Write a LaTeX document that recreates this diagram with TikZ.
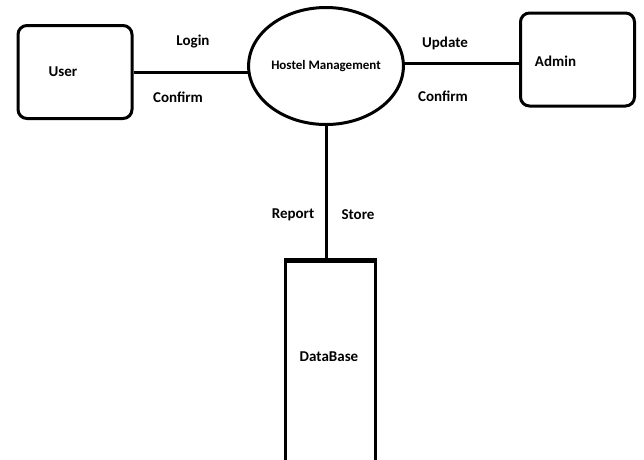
\documentclass[tikz,border=0pt]{standalone}
\usepackage{fontspec}
\setmainfont{Carlito}
\usetikzlibrary{shapes.geometric}
\begin{document}
\begin{tikzpicture}[x=1pt, y=-1pt, line width=3pt,
  every node/.style={font=\bfseries\fontsize{15}{17}\selectfont},
  entity/.style={draw, rounded corners=9pt, minimum width=114pt, minimum height=93pt},
  process/.style={draw, ellipse, minimum width=136pt, minimum height=117pt, inner sep=0pt, font=\bfseries\fontsize{13}{15}\selectfont},
  store/.style={draw, minimum width=90pt, minimum height=240pt, anchor=north}]
\useasboundingbox (0,0) rectangle (644,459);
% external entities
\node[entity, label={[xshift=-12pt]center:User}] (user) at (75,72) {};
\node[entity, label={[xshift=-22pt, yshift=-2pt]center:Admin}] (admin) at (577.5,59.5) {};
% process
\node[process] (hm) at (326,66) {Hostel Management};
% data store
\node[store] (db) at (330.5,260) {};
\draw[line width=5pt] (db.north west) -- (db.north east);
\node (dbname) at (329,357) {DataBase};
% flows
\draw (hm.185) -- (hm.185 -| user.east);
\draw (hm.2) -- (hm.2 -| admin.west);
\draw (hm) -- (hm |- db.north);
% flow labels
\node (login) at (193,42) {Login};
\node (confirmu) at (178,97) {Confirm};
\node (update) at (445,43) {Update};
\node (confirma) at (443,96) {Confirm};
\node (report) at (293,215) {Report};
\node (storelbl) at (358,215) {Store};
\end{tikzpicture}
\end{document}
